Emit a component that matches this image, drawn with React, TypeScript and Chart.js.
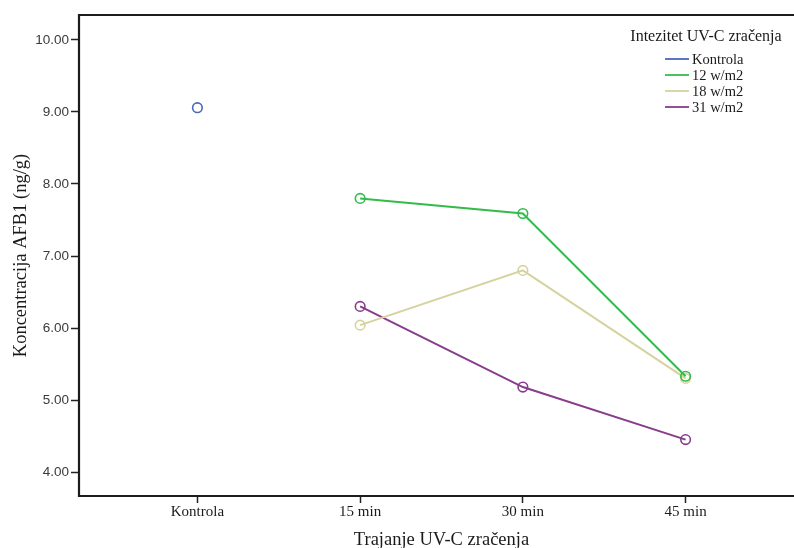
import React, { useEffect, useRef } from "react";
import { Chart, registerables } from "chart.js";

Chart.register(...registerables);

const categories = ["Kontrola", "15 min", "30 min", "45 min"];
const yTickValues = [4, 5, 6, 7, 8, 9, 10];

const seriesNames = ["Kontrola", "12 w/m2", "18 w/m2", "31 w/m2"];
const seriesColors = ["#4c66bb", "#35ba4c", "#d6d29f", "#873d8b"];

const kontrolaValues = [9.06];
const w12Values = [7.8, 7.59, 5.33];
const w18Values = [6.04, 6.8, 5.3];
const w31Values = [6.3, 5.18, 4.45];

const legendTitle = "Intezitet UV-C zračenja";
const xTitle = "Trajanje UV-C zračenja";
const yTitle = "Koncentracija AFB1 (ng/g)";

const SERIF = "'Liberation Serif', 'Times New Roman', serif";
const SANS = "'Liberation Sans', Arial, sans-serif";

const framePlugin = {
  id: "frame",
  afterDatasetsDraw(chart: any) {
    const { ctx, chartArea } = chart;
    ctx.save();
    ctx.strokeStyle = "#1c1c1c";
    ctx.lineWidth = 2.2;
    ctx.beginPath();
    ctx.moveTo(chartArea.right + 5, chartArea.top);
    ctx.lineTo(chartArea.left - 1, chartArea.top);
    ctx.lineTo(chartArea.left - 1, chartArea.bottom);
    ctx.lineTo(chartArea.right + 5, chartArea.bottom);
    ctx.stroke();
    ctx.restore();
  },
};

const legendPlugin = {
  id: "customLegend",
  afterDraw(chart: any) {
    const { ctx } = chart;
    ctx.save();
    ctx.fillStyle = "#1a1a1a";
    ctx.textBaseline = "middle";
    ctx.textAlign = "center";
    ctx.font = `16px ${SERIF}`;
    ctx.fillText(legendTitle, 706, 37);
    ctx.textAlign = "left";
    ctx.font = `14.5px ${SERIF}`;
    chart.data.datasets.forEach((ds: any, i: number) => {
      const y = 59 + i * 16;
      ctx.strokeStyle = ds.borderColor;
      ctx.lineWidth = 1.8;
      ctx.beginPath();
      ctx.moveTo(665, y);
      ctx.lineTo(689, y);
      ctx.stroke();
      ctx.fillText(ds.label, 692, y + 1);
    });
    ctx.restore();
  },
};

export default function App() {
  const canvasRef = useRef<HTMLCanvasElement | null>(null);

  useEffect(() => {
    if (!canvasRef.current) return;
    const mk = (vals: number[], start: number) => vals.map((v, i) => ({ x: start + i, y: v }));
    const allValues = [mk(kontrolaValues, 0), mk(w12Values, 1), mk(w18Values, 1), mk(w31Values, 1)];
    const chart = new Chart(canvasRef.current, {
      type: "line",
      data: {
        datasets: seriesNames.map((name, i) => ({
          label: name,
          data: allValues[i],
          borderColor: seriesColors[i],
          backgroundColor: "rgba(0,0,0,0)",
          pointBackgroundColor: "rgba(0,0,0,0)",
          pointBorderColor: seriesColors[i],
          pointRadius: 4.8,
          pointBorderWidth: 1.6,
          borderWidth: 2,
          tension: 0,
          fill: false,
        })),
      },
      options: {
        responsive: false,
        animation: false,
        events: [],
        layout: { padding: { top: 15, right: 27, left: 0, bottom: 0 } },
        plugins: {
          legend: { display: false },
          tooltip: { enabled: false },
          title: { display: false },
        },
        scales: {
          x: {
            type: "linear",
            min: -0.7215,
            max: 3.7215,
            afterBuildTicks: (s: any) => {
              s.ticks = categories.map((_, i) => ({ value: i }));
            },
            afterFit: (s: any) => {
              s.height = 52;
            },
            ticks: {
              callback: (v: any) => categories[v] ?? "",
              autoSkip: false,
              maxRotation: 0,
              padding: 0,
              color: "#1a1a1a",
              font: { family: SERIF, size: 15 },
            },
            grid: {
              drawOnChartArea: false,
              drawTicks: true,
              tickLength: 7,
              tickColor: "#222",
              tickWidth: 1.5,
            },
            border: { display: false },
            title: {
              display: true,
              text: xTitle,
              color: "#1a1a1a",
              font: { family: SERIF, size: 18.5, lineHeight: 0.85 },
              padding: { top: 0, bottom: 0 },
            },
          },
          y: {
            type: "linear",
            min: 3.667,
            max: 10.347,
            afterBuildTicks: (s: any) => {
              s.ticks = yTickValues.map((v) => ({ value: v }));
            },
            afterFit: (s: any) => {
              s.width = 80;
            },
            ticks: {
              callback: (v: any) => Number(v).toFixed(2),
              padding: 2,
              color: "#3a3a3a",
              font: { family: SANS, size: 13.5 },
            },
            grid: {
              drawOnChartArea: false,
              drawTicks: true,
              tickLength: 9,
              tickColor: "#222",
              tickWidth: 1.5,
            },
            border: { display: false },
            title: {
              display: true,
              text: yTitle,
              color: "#1a1a1a",
              font: { family: SERIF, size: 18.5, lineHeight: 1.2 },
              padding: { top: 10, bottom: 0 },
            },
          },
        },
      },
      plugins: [framePlugin, legendPlugin],
    });
    return () => chart.destroy();
  }, []);

  return (
    <div
      style={{
        position: "fixed",
        left: 0,
        top: 0,
        width: 794,
        height: 548,
        overflow: "hidden",
        background: "#fff",
      }}
    >
      <canvas ref={canvasRef} width={830} height={548} style={{ display: "block" }} />
    </div>
  );
}
